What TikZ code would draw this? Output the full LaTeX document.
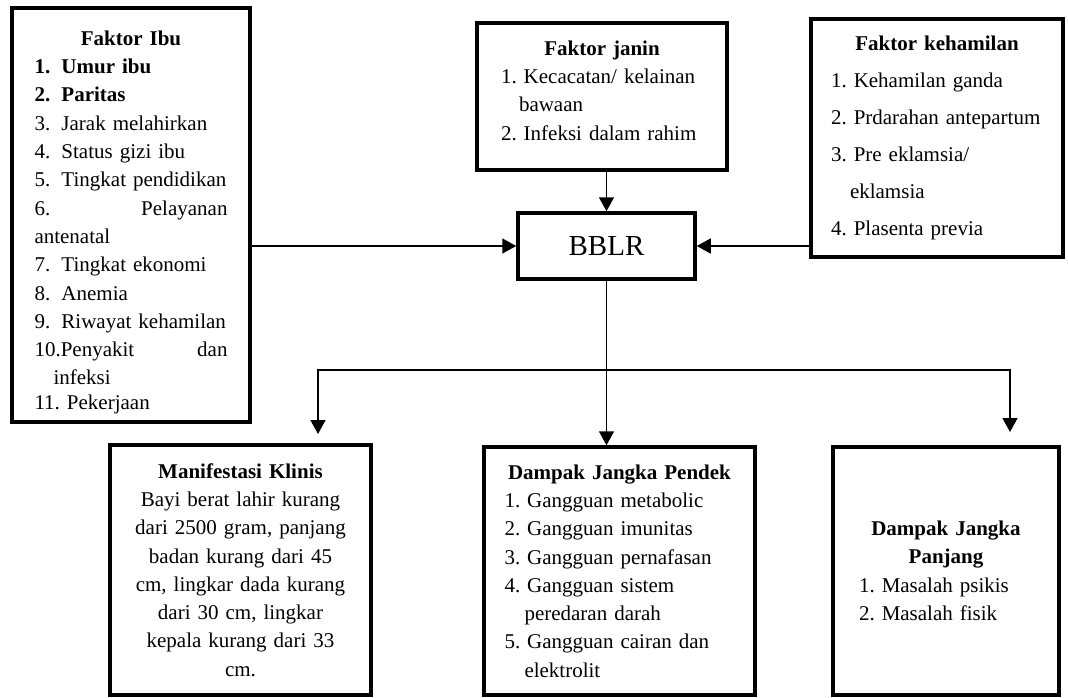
\documentclass[tikz,border=0pt]{standalone}
\usepackage{fontspec}
\setmainfont{Liberation Serif}
\usepackage{tikz}
\usetikzlibrary{arrows.meta}
\frenchspacing
\hyphenpenalty=10000
\tikzset{
  kotak/.style={draw,line width=3.5pt,inner sep=0pt,font=\fontsize{21}{28.3}\selectfont},
  panah/.style={line width=1.5pt},
  >={Triangle[length=14pt,width=15pt]}
}
\newcommand{\judul}[1]{\makebox[\hsize]{\textbf{#1}}}
\newcommand{\nomor}[1]{\makebox[27pt][l]{#1}}

\begin{document}
\begin{tikzpicture}[x=1pt,y=-1pt]
  \useasboundingbox (0,0) rectangle (1068,698);
  \node[kotak,minimum width=238pt,minimum height=414pt,text width=193pt,align=left] (ibu) at (131,215)
    {\rule{0pt}{29pt}\judul{Faktor Ibu}\\
     \textbf{\nomor{1.}Umur ibu}\\
     \textbf{\nomor{2.}Paritas}\\
     \nomor{3.}Jarak melahirkan\\
     \nomor{4.}Status gizi ibu\\
     \nomor{5.}Tingkat pendidikan\\
     6.\hfill Pelayanan\\
     antenatal\\
     \nomor{7.}Tingkat ekonomi\\
     \nomor{8.}Anemia\\
     \nomor{9.}Riwayat kehamilan\\
     10.Penyakit\hfill dan\\
     \hspace*{19pt}infeksi\\[-4pt]
     11. Pekerjaan};
  \node[kotak,minimum width=250pt,minimum height=147pt,text width=202pt,align=left] (janin) at (602,96.5)
    {\judul{Faktor janin}\\
     1. Kecacatan/ kelainan\\
     \hspace*{18pt}bawaan\\
     2. Infeksi dalam rahim\rule[-12pt]{0pt}{1pt}};
  \node[kotak,minimum width=252pt,minimum height=238pt,text width=212pt,align=left,
    font=\fontsize{21}{37}\selectfont] (hamil) at (937,138)
    {\judul{Faktor kehamilan}\\
     1. Kehamilan ganda\\
     2. Prdarahan antepartum\\
     3. Pre eklamsia/\\
     \hspace*{19pt}eklamsia\\
     4. Plasenta previa};
  \node[kotak,minimum width=177pt,minimum height=66pt,font=\fontsize{29}{34}\selectfont] (bblr) at (606.5,246) {BBLR};
  \node[kotak,minimum width=261pt,minimum height=250pt,text width=225pt,align=center] (klinis) at (240.5,570)
    {\textbf{Manifestasi Klinis}\\
     Bayi berat lahir kurang\\
     dari 2500 gram, panjang\\
     badan kurang dari 45\\
     cm, lingkar dada kurang\\
     dari 30 cm, lingkar\\
     kepala kurang dari 33\\
     cm.};
  \node[kotak,minimum width=271pt,minimum height=248pt,text width=230pt,align=left] (pendek) at (619.5,571)
    {\judul{Dampak Jangka Pendek}\\
     1. Gangguan metabolic\\
     2. Gangguan imunitas\\
     3. Gangguan pernafasan\\
     4. Gangguan sistem\\
     \hspace*{20pt}peredaran darah\\
     5. Gangguan cairan dan\\
     \hspace*{20pt}elektrolit};
  \node[kotak,minimum width=226pt,minimum height=248pt,text width=174pt,align=left] (panjang) at (946,571)
    {\judul{Dampak Jangka}\\
     \judul{Panjang}\\
     1. Masalah psikis\\
     2. Masalah fisik};
  \draw[panah,->] (ibu.east |- bblr.west) -- (bblr.west);
  \draw[panah,->] (hamil.west |- bblr.east) -- (bblr.east);
  \draw[panah,->] (bblr.north |- janin.south) -- (bblr.north);
  \draw[panah,->] (bblr.south) -- (bblr.south |- pendek.north);
  \coordinate (cabkiri) at (318,370);
  \coordinate (cabkanan) at (1010,370);
  \coordinate (ujungkiri) at (318,434);
  \coordinate (ujungkanan) at (1010,432);
  \draw[panah,<->] (ujungkiri) -- (cabkiri) -- (cabkanan) -- (ujungkanan);
\end{tikzpicture}
\end{document}
